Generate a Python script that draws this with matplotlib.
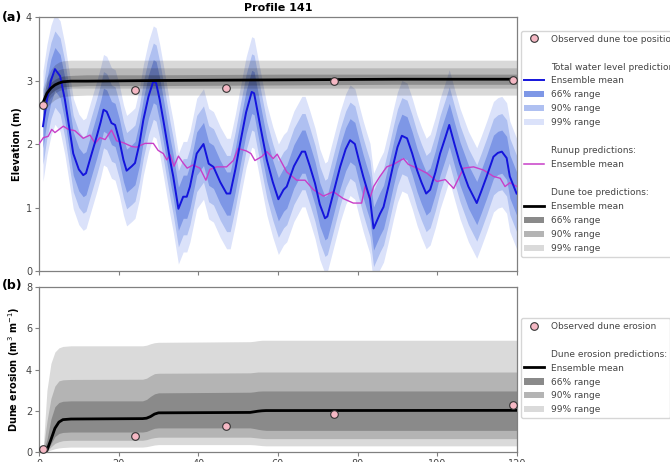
import numpy as np
import matplotlib
matplotlib.use("Agg")
import matplotlib.pyplot as plt
from matplotlib.lines import Line2D
from matplotlib.patches import Patch

# total water level ensemble mean (hours, m)
twl_t = [1.0, 2.0, 3.0, 4.0, 5.3, 6.5, 7.5, 8.6, 10.0, 11.1, 11.8, 13.0, 14.5, 15.5,
         16.2, 17.0, 18.2, 19.1, 20.2, 21.2, 22.0, 23.3, 24.1, 25.2, 26.2, 27.5,
         28.7, 29.4, 30.3, 31.2, 32.9, 33.7, 35.0, 36.2, 37.1, 37.9, 39.6, 41.3,
         42.6, 43.8, 45.5, 47.1, 48.0, 49.3, 50.5, 52.0, 53.4, 54.0, 55.5, 57.2,
         58.7, 60.1, 61.4, 62.2, 64.0, 66.0, 66.8, 68.0, 69.3, 70.5, 71.8, 72.4,
         74.0, 75.6, 77.0, 78.1, 79.3, 80.3, 81.4, 82.3, 83.1, 84.0, 85.6, 86.5,
         87.8, 89.0, 90.0, 91.1, 92.4, 93.7, 94.9, 96.0, 97.2, 98.2, 99.5, 100.7,
         102.0, 103.0, 104.3, 105.7, 107.8, 109.9, 111.0, 112.4, 114.1, 115.2,
         116.2, 117.4, 118.2, 119.9]
twl_mean = [2.28, 2.7, 3.0, 3.18, 3.07, 2.7, 2.3, 1.85, 1.6, 1.51, 1.54, 1.8, 2.12, 2.35,
            2.54, 2.51, 2.33, 2.3, 2.05, 1.75, 1.58, 1.65, 1.7, 2.0, 2.38, 2.75,
            2.99, 2.96, 2.7, 2.38, 1.75, 1.49, 0.98, 1.17, 1.17, 1.33, 1.85, 2.0,
            1.69, 1.64, 1.4, 1.22, 1.22, 1.6, 2.01, 2.5, 2.82, 2.8, 2.3, 1.75,
            1.4, 1.13, 1.28, 1.33, 1.65, 1.88, 1.88, 1.65, 1.38, 1.05, 0.83, 0.86,
            1.25, 1.64, 1.92, 2.06, 2.0, 1.75, 1.49, 1.3, 1.14, 0.67, 0.9, 1.01,
            1.35, 1.69, 1.95, 2.13, 2.09, 1.85, 1.59, 1.4, 1.22, 1.28, 1.55, 1.85,
            2.1, 2.3, 2.0, 1.69, 1.33, 1.07, 1.25, 1.49, 1.8, 1.86,
            1.88, 1.78, 1.49, 1.22]
# half widths of the ranges (m)
twl_hw66 = 0.34
twl_hw90 = 0.60
twl_hw99 = 0.87

# runup ensemble mean
ru_t = [0.0, 1.1, 2.3, 3.2, 4.0, 6.1, 7.4, 9.0, 11.1, 12.8, 14.1, 15.3, 16.6, 18.2,
        19.5, 21.2, 23.3, 24.5, 26.6, 28.7, 29.9, 31.2, 32.1, 32.9, 33.9, 35.0,
        36.2, 37.2, 38.7, 40.4, 41.9, 42.9, 44.6, 47.1, 48.8, 50.0, 52.1, 53.2,
        54.2, 55.9, 57.2, 58.8, 59.8, 62.2, 64.7, 66.8, 68.9, 71.4, 73.9, 76.4,
        78.9, 81.0, 81.9, 83.0, 84.0, 85.6, 87.3, 89.0, 91.5, 92.7, 94.9, 97.4,
        99.9, 102.0, 104.1, 106.6, 109.1, 111.6, 114.1, 115.8, 117.0, 118.2, 120.0]
ru_mean = [2.0, 2.1, 2.12, 2.23, 2.18, 2.28, 2.23, 2.21, 2.09, 2.14, 2.01, 2.1, 2.07, 2.22,
           2.05, 2.02, 1.96, 1.95, 2.01, 2.01, 1.9, 1.85, 1.75, 1.83, 1.65, 1.81,
           1.7, 1.62, 1.67, 1.62, 1.43, 1.6, 1.64, 1.64, 1.74, 1.93, 1.89, 1.85,
           1.74, 1.8, 1.88, 1.77, 1.84, 1.56, 1.43, 1.43, 1.28, 1.18, 1.25, 1.14,
           1.07, 1.07, 1.34, 1.13, 1.33, 1.49, 1.64, 1.68, 1.77, 1.68, 1.62, 1.54,
           1.41, 1.44, 1.3, 1.62, 1.64, 1.59, 1.49, 1.46, 1.33, 1.39, 1.33]

# dune toe predictions
toe_t = [1, 2, 3, 4, 5, 6, 8, 12, 30, 60, 90, 120]
toe_mean = [2.65, 2.8, 2.88, 2.93, 2.96, 2.98, 2.99, 2.99, 3.0, 3.01, 3.02, 3.02]
toe_hi99 = [2.85, 3.05, 3.17, 3.25, 3.29, 3.31, 3.32, 3.32, 3.32, 3.32, 3.32, 3.32]
toe_lo99 = [2.45, 2.58, 2.65, 2.7, 2.73, 2.75, 2.76, 2.77, 2.77, 2.77, 2.77, 2.77]
toe_hi90 = [2.77, 2.96, 3.07, 3.14, 3.17, 3.19, 3.2, 3.2, 3.2, 3.2, 3.2, 3.2]
toe_lo90 = [2.53, 2.66, 2.74, 2.8, 2.84, 2.86, 2.88, 2.88, 2.88, 2.88, 2.88, 2.88]
toe_hi66 = [2.71, 2.88, 2.97, 3.02, 3.05, 3.07, 3.08, 3.09, 3.09, 3.1, 3.1, 3.1]
toe_lo66 = [2.59, 2.72, 2.8, 2.85, 2.88, 2.9, 2.91, 2.92, 2.92, 2.93, 2.94, 2.94]
obs_toe_t = [1, 24, 47, 74, 119]
obs_toe = [2.62, 2.85, 2.88, 2.99, 3.01]

# dune erosion predictions
ero_t = [1, 2, 3, 4, 5, 6, 8, 26, 27, 28, 29, 30, 53, 54, 55, 56, 57, 120]
ero_mean = [0.0, 0.08, 0.6, 1.15, 1.45, 1.57, 1.6, 1.62, 1.64, 1.72, 1.84, 1.9, 1.92,
            1.95, 1.98, 2.0, 2.01, 2.02]
ero_hi99 = [0.0, 3.0, 4.3, 4.85, 5.05, 5.12, 5.15, 5.15, 5.18, 5.25, 5.3, 5.32, 5.35,
            5.37, 5.4, 5.42, 5.42, 5.42]
ero_lo99 = [0.0, 0.02, 0.1, 0.16, 0.2, 0.22, 0.24, 0.24, 0.26, 0.3, 0.34, 0.36, 0.36,
            0.35, 0.33, 0.31, 0.3, 0.3]
ero_hi90 = [0.0, 1.5, 2.6, 3.2, 3.45, 3.5, 3.52, 3.53, 3.58, 3.7, 3.8, 3.82, 3.84,
            3.86, 3.88, 3.88, 3.88, 3.88]
ero_lo90 = [0.0, 0.03, 0.25, 0.42, 0.5, 0.55, 0.57, 0.57, 0.6, 0.66, 0.7, 0.72, 0.72,
            0.7, 0.68, 0.66, 0.65, 0.65]
ero_hi66 = [0.0, 0.6, 1.6, 2.2, 2.4, 2.46, 2.48, 2.48, 2.55, 2.7, 2.82, 2.87, 2.9,
            2.92, 2.95, 2.96, 2.96, 2.96]
ero_lo66 = [0.0, 0.05, 0.4, 0.75, 0.9, 0.95, 0.97, 0.97, 1.0, 1.08, 1.15, 1.17, 1.17,
            1.14, 1.1, 1.07, 1.05, 1.05]
obs_ero_t = [1, 24, 47, 74, 119]
obs_ero = [0.15, 0.78, 1.28, 1.86, 2.27]

blue = '#1414dc'
b66, b90, b99 = '#7e97e6', '#afc0f1', '#dbe2fa'
g66, g90, g99 = '#8a8a8a', '#b4b4b4', '#dadada'
pink = '#f5b8c4'
magenta = '#c83ec8'
axcol = '#808080'
txtcol = '#444444'

plt.rcParams['font.family'] = 'DejaVu Sans'
fig = plt.figure(figsize=(6.7, 4.62), dpi=100)
ax1 = fig.add_axes([0.0582, 0.4134, 0.7134, 0.5498])
ax2 = fig.add_axes([0.0582, 0.0216, 0.7134, 0.3571])

tw = np.asarray(twl_t)
tm = np.asarray(twl_mean)
ax1.fill_between(tw, tm - twl_hw99, tm + twl_hw99, color=b99, lw=0, zorder=1)
ax1.fill_between(tw, tm - twl_hw90, tm + twl_hw90, color=b90, lw=0, zorder=1)
ax1.fill_between(tw, tm - twl_hw66, tm + twl_hw66, color=b66, lw=0, zorder=1)
ax1.fill_between(toe_t, toe_lo99, toe_hi99, color='k', alpha=0.15, lw=0, zorder=2)
ax1.fill_between(toe_t, toe_lo90, toe_hi90, color='k', alpha=0.15, lw=0, zorder=2)
ax1.fill_between(toe_t, toe_lo66, toe_hi66, color='k', alpha=0.22, lw=0, zorder=2)
ax1.plot(ru_t, ru_mean, color=magenta, lw=1.0, zorder=3)
ax1.plot(tw, tm, color=blue, lw=1.4, zorder=4)
ax1.plot(toe_t, toe_mean, color='k', lw=2.0, zorder=5)
ax1.plot(obs_toe_t, obs_toe, 'o', ms=5.5, mfc=pink, mec='#333333', mew=0.8,
         zorder=6, clip_on=False)
ax1.set_xlim(0, 120)
ax1.set_ylim(0, 4)
ax1.set_yticks([0, 1, 2, 3, 4])
ax1.set_xticks(range(0, 121, 20))
ax1.set_xticklabels([])
ax1.set_ylabel('Elevation (m)', fontsize=7, fontweight='bold', labelpad=3)
ax1.set_title('Profile 141', fontsize=8, fontweight='bold', pad=4)

ax2.fill_between(ero_t, ero_lo99, ero_hi99, color=g99, lw=0, zorder=1)
ax2.fill_between(ero_t, ero_lo90, ero_hi90, color=g90, lw=0, zorder=1)
ax2.fill_between(ero_t, ero_lo66, ero_hi66, color=g66, lw=0, zorder=1)
ax2.plot(ero_t, ero_mean, color='k', lw=2.0, zorder=3)
ax2.plot(obs_ero_t, obs_ero, 'o', ms=5.5, mfc=pink, mec='#333333', mew=0.8,
         zorder=4, clip_on=False)
ax2.set_xlim(0, 120)
ax2.set_ylim(0, 8)
ax2.set_yticks([0, 2, 4, 6, 8])
ax2.set_xticks(range(0, 121, 20))
ax2.set_ylabel(r'Dune erosion (m$^3$ m$^{-1}$)', fontsize=7, fontweight='bold',
               labelpad=3)

for ax in (ax1, ax2):
    for sp in ax.spines.values():
        sp.set_color(axcol)
        sp.set_linewidth(0.9)
    ax.tick_params(length=3, width=0.8, color=axcol, labelcolor=txtcol,
                   labelsize=7, pad=2)

blank = Line2D([], [], linestyle='none')
obs_h = Line2D([], [], linestyle='none', marker='o', ms=5.5, mfc=pink,
               mec='#333333', mew=0.8)
h1 = [obs_h, blank, blank,
      Line2D([], [], color=blue, lw=1.4),
      Patch(color=b66, lw=0), Patch(color=b90, lw=0), Patch(color=b99, lw=0),
      blank, blank,
      Line2D([], [], color=magenta, lw=1.1),
      blank, blank,
      Line2D([], [], color='k', lw=2.0),
      Patch(color=g66, lw=0), Patch(color=g90, lw=0), Patch(color=g99, lw=0)]
l1 = ['Observed dune toe positions', '', 'Total water level predictions:',
      'Ensemble mean', '66% range', '90% range', '99% range', '',
      'Runup predictions:', 'Ensemble mean', '', 'Dune toe predictions:',
      'Ensemble mean', '66% range', '90% range', '99% range']
leg1 = ax1.legend(h1, l1, loc='upper left', bbox_to_anchor=(1.008, 0.945),
                  fontsize=6.5, labelspacing=0.55, handlelength=2.2,
                  handletextpad=0.7, borderaxespad=0, frameon=True)
h2 = [obs_h, blank, blank,
      Line2D([], [], color='k', lw=2.0),
      Patch(color=g66, lw=0), Patch(color=g90, lw=0), Patch(color=g99, lw=0)]
l2 = ['Observed dune erosion', '', 'Dune erosion predictions:',
      'Ensemble mean', '66% range', '90% range', '99% range']
leg2 = ax2.legend(h2, l2, loc='upper left', bbox_to_anchor=(1.008, 0.812),
                  fontsize=6.5, labelspacing=0.55, handlelength=2.2,
                  handletextpad=0.7, borderaxespad=0, frameon=True)
for leg in (leg1, leg2):
    for t in leg.get_texts():
        t.set_color(txtcol)

fig.text(0.003, 0.962, '(a)', fontsize=9, fontweight='bold', va='center')
fig.text(0.003, 0.382, '(b)', fontsize=9, fontweight='bold', va='center')

fig.savefig('out.png', dpi=100)
